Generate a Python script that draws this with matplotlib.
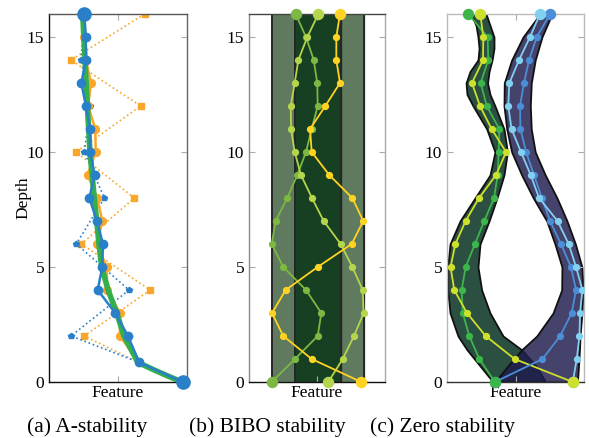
import matplotlib
matplotlib.use("Agg")
import matplotlib.pyplot as plt
import numpy as np

plt.rcParams['font.family'] = ['Liberation Serif', 'DejaVu Serif']
plt.rcParams['font.size'] = 12.5

# ---------------- data ----------------
# Panel (a): A-stability
depth_a = [16, 15, 14, 13, 12, 11, 10, 9, 8, 7, 6, 5, 4, 3, 2, 0.85, 0]
a_blue = [2.56, 2.66, 2.68, 2.34, 2.68, 2.97, 2.97, 3.31, 2.92, 3.48, 3.91, 3.86, 3.53, 4.80, 5.72, 6.54, 9.69]
a_orange = [2.39, 2.54, 2.68, 3.04, 2.83, 3.36, 3.38, 2.80, 3.50, 3.86, 3.48, 4.18, 4.22, 5.14, 5.14, 6.52, 9.64]
depth_a_dot = [16, 14, 12, 10, 8, 6, 4, 2, 0.85, 0]
a_orange_dot = [6.93, 1.59, 6.64, 1.96, 6.18, 2.34, 7.34, 2.54, 6.52, 9.64]
a_blue_dot = [2.54, 2.32, 2.99, 2.56, 4.01, 1.98, 5.80, 1.59, 6.54, 9.69]
depth_a_green = [16, 14, 12, 10, 8, 7, 6, 5, 4, 3, 2, 1.5, 0.85, 0.5, 0.25, 0]
a_green = [2.44, 2.61, 2.78, 2.97, 3.28, 3.46, 3.62, 3.82, 4.28, 4.91, 5.43, 5.87, 6.45, 7.70, 8.65, 9.64]

# Panel (b): BIBO stability
depth_b = [16, 15, 14, 13, 12, 11, 10, 9, 8, 7, 6, 5, 4, 3, 2, 1, 0]
b_yellow = [6.69, 6.42, 6.42, 6.69, 5.61, 4.49, 4.61, 5.90, 7.60, 8.40, 7.55, 5.05, 2.70, 1.69, 2.52, 4.61, 8.26]
b_lightgreen = [5.10, 4.29, 3.63, 3.36, 3.07, 3.09, 3.36, 3.82, 4.63, 5.49, 6.74, 7.60, 8.36, 8.43, 7.72, 6.89, 5.83]
b_green = [3.43, 4.19, 4.76, 5.02, 5.05, 4.61, 4.19, 3.55, 2.82, 1.96, 1.67, 2.52, 4.19, 5.32, 5.05, 3.38, 1.67]
b_outer_band = [1.67, 8.46]
b_inner_band = [3.40, 6.79]

# Panel (c): Zero stability
depth_c = [16, 15, 14, 13, 12, 11, 10, 9, 8, 7, 6, 5, 4, 3, 2, 1, 0]
c_green = [1.55, 2.97, 3.01, 2.46, 2.90, 3.82, 3.77, 3.70, 3.43, 2.72, 2.04, 1.36, 1.07, 1.15, 1.63, 2.36, 3.50]
c_yellow = [2.43, 2.65, 2.63, 1.82, 2.41, 3.26, 4.31, 3.58, 2.34, 1.36, 0.61, 0.26, 0.53, 1.46, 2.82, 4.94, 9.18]
c_lightblue = [6.79, 6.06, 5.26, 4.55, 4.47, 4.71, 5.40, 6.11, 6.72, 8.07, 8.88, 9.42, 9.88, 9.71, 9.67, 9.47, 9.18]
c_blue = [7.52, 6.55, 5.99, 5.62, 5.33, 5.36, 5.77, 6.35, 6.93, 7.52, 8.32, 9.05, 9.42, 9.10, 8.26, 6.97, 3.50]

# band outlines in panel (c)
depth_gband = [16, 15.5, 15, 14.5, 14, 13.5, 13, 12.5, 12, 11, 10, 9, 8, 7, 6, 5, 4, 3, 2, 1.4, 0.7, 0]
gband_left = [1.75, 2.12, 2.26, 2.34, 2.26, 1.68, 1.39, 1.46, 1.90, 2.90, 3.50, 3.14, 2.04, 0.95, 0.22, 0.05, 0.05, 0.22, 0.80, 1.46, 2.41, 3.36]
gband_right = [2.85, 3.14, 3.43, 3.43, 3.29, 3.07, 2.96, 3.14, 3.50, 4.16, 4.41, 4.16, 3.65, 3.07, 2.41, 2.26, 2.53, 3.14, 4.09, 5.45, 6.50, 7.20]
depth_nband = [16, 15, 14, 13, 12, 11, 10, 9, 8, 7, 6, 5, 4, 3, 2, 1.4, 0.7, 0]
nband_left = [6.79, 5.55, 4.72, 4.18, 4.16, 4.36, 4.72, 5.45, 6.30, 7.28, 7.88, 8.39, 8.37, 7.74, 6.55, 5.45, 4.45, 3.50]
nband_right = [7.66, 6.93, 6.44, 6.15, 6.08, 6.15, 6.44, 7.17, 8.03, 8.76, 9.37, 9.85, 9.93, 9.85, 9.71, 9.67, 9.60, 9.52]

yticks = [0, 5, 10, 15]
captions = ["(a) A-stability", "(b) BIBO stability", "(c) Zero stability"]

# ---------------- figure ----------------
W, H = 589, 438
fig = plt.figure(figsize=(W / 100, H / 100), dpi=100)

def px_axes(l, r, t=14, b=382):
    return fig.add_axes([l / W, (H - b) / H, (r - l) / W, (b - t) / H])

axA = px_axes(49, 187)
axB = px_axes(249, 385)
axC = px_axes(447, 584)

spine_colors = {
    'a': dict(left='#111111', bottom='#111111', top='#555555', right='#666666'),
    'b': dict(left='#888888', bottom='#111111', top='#444444', right='#aaaaaa'),
    'c': dict(left='#bbbbbb', bottom='#333333', top='#bbbbbb', right='#bbbbbb'),
}

for key, ax in zip('abc', [axA, axB, axC]):
    ax.set_xlim(0, 10)
    ax.set_ylim(0, 16)
    ax.set_yticks(yticks)
    ax.set_xticks([5])
    ax.set_xticklabels([])
    ax.tick_params(direction='in', length=4.5, width=0.8, color='#aaaaaa',
                   left=True, right=True, top=True, bottom=True, labelsize=12.5, pad=3.5)
    ax.set_xlabel('Feature', fontsize=12.5, labelpad=-1)
    for s, c in spine_colors[key].items():
        ax.spines[s].set_color(c)
        ax.spines[s].set_linewidth(1.0)

axA.set_ylabel('Depth', fontsize=12.5)
axA.yaxis.set_label_coords(-0.13, 0.5)

# ----- panel (a)
c_or = '#f9a62b'
c_bl = '#2a80c8'
c_gr = '#33b04c'
axA.plot(a_orange_dot, depth_a_dot, ls=':', lw=1.2, color=c_or, marker='s', ms=3.8, zorder=2)
axA.plot(a_blue_dot, depth_a_dot, ls=':', lw=1.2, color=c_bl, marker='p', ms=4.0, zorder=2)
axA.plot(a_orange, depth_a, ls='-', lw=1.8, color=c_or, marker='o', ms=5.6, zorder=3)
axA.plot(a_green, depth_a_green, ls='-', lw=4.0, color=c_gr, zorder=4, solid_capstyle='round')
axA.plot(a_blue, depth_a, ls='-', lw=1.8, color=c_bl, marker='o', ms=6.0, zorder=5)
axA.plot([a_blue[0], a_blue[-1]], [depth_a[0], depth_a[-1]], ls='none', marker='o', ms=9.5,
         color=c_bl, zorder=6, clip_on=False)

# ----- panel (b)
axB.axvspan(b_outer_band[0], b_outer_band[1], color='#5f7a5e', zorder=0)
axB.axvspan(b_inner_band[0], b_inner_band[1], color='#173f22', zorder=0.5)
for xv in b_outer_band + b_inner_band:
    axB.axvline(xv, color='#262626', lw=1.4, zorder=1)
c_y = '#fed322'
c_lg = '#b4d54c'
c_mg = '#7cb842'
for vals, col, z in [(b_green, c_mg, 3), (b_lightgreen, c_lg, 4), (b_yellow, c_y, 5)]:
    axB.plot(vals, depth_b, '-', color=col, lw=1.3, marker='o', ms=4.2, zorder=z)
    axB.plot([vals[0], vals[-1]], [depth_b[0], depth_b[-1]], ls='none', marker='o', ms=7.2,
             color=col, zorder=z + 0.5, clip_on=False)

# ----- panel (c)
axC.fill_betweenx(depth_gband, gband_left, gband_right, facecolor=(0.0, 0.17, 0.10, 0.83),
                  edgecolor='#111111', lw=1.3, zorder=1)
axC.fill_betweenx(depth_nband, nband_left, nband_right, facecolor=(0.12, 0.11, 0.30, 0.83),
                  edgecolor='#111111', lw=1.3, zorder=1.2)
c_cg = '#3cb54a'
c_cy = '#cde02c'
c_lb = '#82d0f0'
c_mb = '#4b8ed8'
for vals, col, z in [(c_green, c_cg, 3), (c_yellow, c_cy, 4), (c_blue, c_mb, 5), (c_lightblue, c_lb, 6)]:
    axC.plot(vals, depth_c, '-', color=col, lw=1.3, marker='o', ms=4.2, zorder=z)
for vals, col, z in [(c_blue, c_mb, 7), (c_lightblue, c_lb, 7.2), (c_green, c_cg, 7.4), (c_yellow, c_cy, 7.6)]:
    axC.plot([vals[0]], [depth_c[0]], ls='none', marker='o', ms=7.2, color=col, zorder=z, clip_on=False)
for vals, col, z in [(c_lightblue, c_lb, 7), (c_blue, c_mb, 7.2), (c_green, c_cg, 7.4), (c_yellow, c_cy, 7.6)]:
    axC.plot([vals[-1]], [depth_c[-1]], ls='none', marker='o', ms=7.2, color=col, zorder=z, clip_on=False)

# captions
for x0, txt in zip([27, 189, 370], captions):
    fig.text(x0 / W, 1 - 427 / H, txt, ha='left', va='center', fontsize=15.5)

fig.savefig('out.png', dpi=100)
